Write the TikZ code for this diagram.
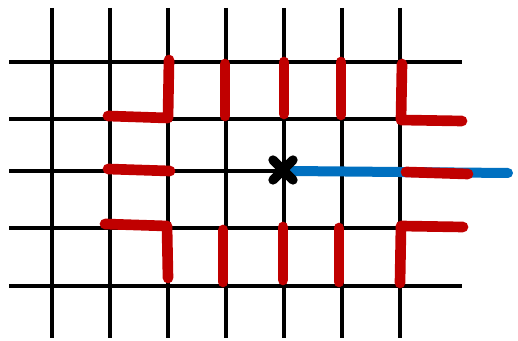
\documentclass[tikz,border=0pt]{standalone}
\usepackage{tikz}
\definecolor{redseg}{RGB}{192,0,0}
\definecolor{bluepath}{RGB}{0,112,192}
\tikzset{
  gridline/.style={draw=black, line width=3pt},
  redmark/.style={draw=redseg, line width=8pt, line cap=round, line join=round},
  bluemark/.style={draw=bluepath, line width=7.5pt, line cap=round},
  crossmark/.style={draw=black, line width=7pt, line cap=round}
}
\begin{document}
\begin{tikzpicture}[x=0.75pt,y=-0.75pt]
\useasboundingbox (0,0) rectangle (518,341);
% grid
\foreach \gx in {52,110,168,226,284,342,400}
  \draw[gridline] (\gx,8) -- (\gx,338);
\foreach \gy in {62,119,171,228,286}
  \draw[gridline] (9,\gy) -- (462,\gy);
% blue path
\coordinate (start) at (283,170);
\draw[bluemark] (290,171) -- (508,173);
% red marks top row
\draw[redmark] (108,116) -- (168,118) -- (169,60);
\draw[redmark] (225,64) -- (225,116);
\draw[redmark] (284,62) -- (284,114);
\draw[redmark] (341,62) -- (341,115);
\draw[redmark] (402,64) -- (401,120) -- (462,121);
% red marks middle row
\draw[redmark] (108,169) -- (170,171);
\draw[redmark] (406,172) -- (468,174);
% red marks bottom row
\draw[redmark] (105,224) -- (167,226) -- (168,278);
\draw[redmark] (223,230) -- (223,282);
\draw[redmark] (283,227) -- (283,280);
\draw[redmark] (339,228) -- (339,282);
\draw[redmark] (463,227) -- (401,226) -- (400,283);
% cross
\draw[crossmark] ([shift={(-10,-10)}]start) -- ([shift={(10,10)}]start);
\draw[crossmark] ([shift={(-10,10)}]start) -- ([shift={(10,-10)}]start);
\end{tikzpicture}
\end{document}
